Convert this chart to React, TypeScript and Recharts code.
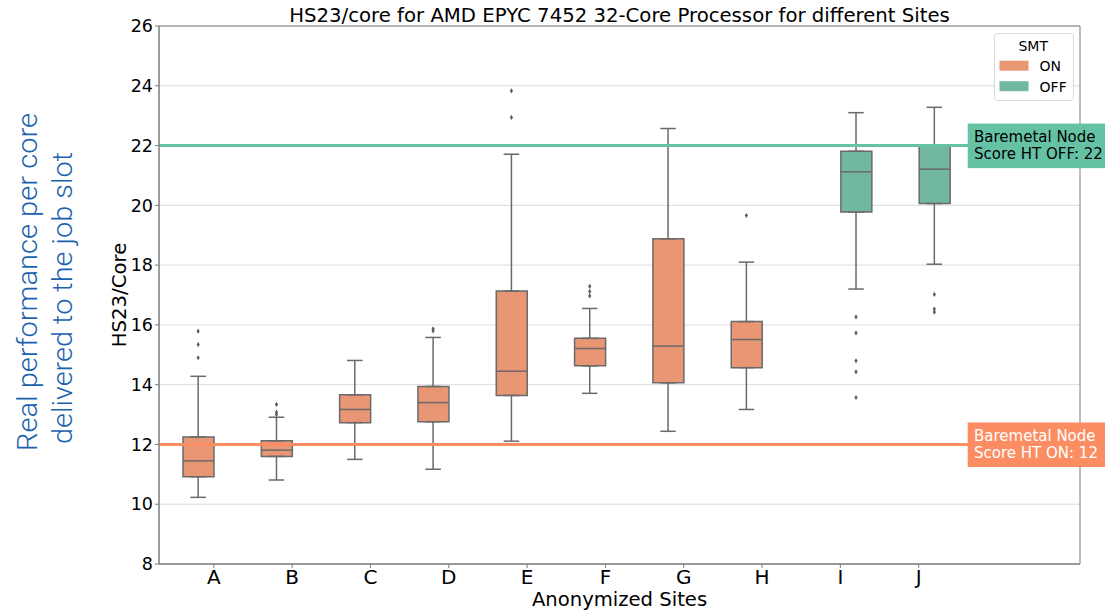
import React from 'react';
import {
  ComposedChart,
  Bar,
  Cell,
  Scatter,
  ErrorBar,
  XAxis,
  YAxis,
  CartesianGrid,
  ReferenceLine,
  ReferenceArea,
} from 'recharts';

// ---------- data ----------
const sites = ['A', 'B', 'C', 'D', 'E', 'F', 'G', 'H', 'I', 'J'];
const smt = ['ON', 'ON', 'ON', 'ON', 'ON', 'ON', 'ON', 'ON', 'OFF', 'OFF'];
const hueLevels = ['ON', 'OFF'];
const whiskerLow = [10.23, 10.81, 11.5, 11.17, 12.11, 13.71, 12.44, 13.17, 17.2, 18.03];
const q1 = [10.92, 11.6, 12.73, 12.76, 13.64, 14.63, 14.06, 14.57, 19.78, 20.06];
const median = [11.45, 11.81, 13.17, 13.4, 14.45, 15.21, 15.29, 15.51, 21.12, 21.21];
const q3 = [12.25, 12.12, 13.66, 13.94, 17.13, 15.55, 18.88, 16.11, 21.81, 21.99];
const whiskerHigh = [14.28, 12.91, 14.81, 15.58, 21.71, 16.55, 22.57, 18.1, 23.1, 23.28];
const outliers: number[][] = [
  [14.9, 15.34, 15.79],
  [13.0, 13.08, 13.34],
  [],
  [15.8, 15.87],
  [22.94, 23.83],
  [16.97, 17.12, 17.29],
  [],
  [19.66],
  [13.57, 14.43, 14.8, 15.73, 16.27],
  [16.43, 16.53, 17.02],
];
const baremetalOn = 12;
const baremetalOff = 22;
const yTicks = [8, 10, 12, 14, 16, 18, 20, 22, 24, 26];
const xTicks = sites.map((_, i) => i);

// ---------- styling ----------
const boxFill: Record<string, string> = { ON: '#e99675', OFF: '#72b7a1' };
const lineColor: Record<string, string> = { ON: '#fc8d62', OFF: '#66c2a5' };
const edge = '#6a6a6a';
const spine = '#7c7c7c';
const FONT = 'DejaVu Sans, Verdana, sans-serif';
const dodge: Record<string, number> = { ON: -0.2, OFF: 0.2 };
const BOX_W = 31;

const boxRows = sites.map((s, i) => ({
  site: s,
  hue: smt[i],
  x: i + dodge[smt[i]],
  box: [q1[i], q3[i]],
}));
const upperWhiskers = sites.map((s, i) => ({
  x: i + dodge[smt[i]],
  y: q3[i],
  err: [0, whiskerHigh[i] - q3[i]],
}));
const lowerWhiskers = sites.map((s, i) => ({
  x: i + dodge[smt[i]],
  y: q1[i],
  err: [q1[i] - whiskerLow[i], 0],
}));
const medians = sites.map((s, i) => ({ x: i + dodge[smt[i]], y: median[i] }));
const fliers = sites.flatMap((s, i) => outliers[i].map((v) => ({ x: i + dodge[smt[i]], y: v })));

const Empty = () => <g />;
const MedianShape = (p: any) => (
  <line x1={p.cx - BOX_W / 2} x2={p.cx + BOX_W / 2} y1={p.cy} y2={p.cy} stroke={edge} strokeWidth={1.5} />
);
const FlierShape = (p: any) => (
  <path
    d={`M${p.cx},${p.cy - 2.6}L${p.cx + 1.6},${p.cy}L${p.cx},${p.cy + 2.6}L${p.cx - 1.6},${p.cy}Z`}
    fill="#5c5c5c"
  />
);

const makeLabel = (bg: string, color: string, l1: string, l2: string) => (props: any) => {
  const vb = props.viewBox || {};
  const x = vb.x + vb.width - 112.3;
  const y = vb.y;
  return (
    <g>
      <rect x={x} y={y - 22} width={160} height={44.6} fill={bg} />
      <text x={x + 6.3} y={y - 3.5} fontSize={15} fill={color} fontFamily={FONT}>
        {l1}
      </text>
      <text x={x + 6.3} y={y + 13.5} fontSize={15} fill={color} fontFamily={FONT}>
        {l2}
      </text>
    </g>
  );
};

export default function App() {
  return (
    <div
      style={{
        position: 'absolute',
        left: 0,
        top: 0,
        width: 1105,
        height: 610,
        background: '#fff',
        fontFamily: FONT,
        overflow: 'hidden',
      }}
    >
      <ComposedChart width={1105} height={610} data={boxRows} margin={{ top: 26, right: 25, bottom: 0, left: 0 }}>
        <CartesianGrid horizontal vertical={false} stroke="#dcdcdc" strokeWidth={1} />
        <XAxis
          type="number"
          dataKey="x"
          domain={[-0.7, 11.06]}
          allowDataOverflow
          ticks={xTicks}
          interval={0}
          tickFormatter={(v: number) => sites[v] ?? ''}
          height={46}
          tickSize={4}
          tickMargin={2}
          tick={{ fontSize: 20, fill: '#000', fontFamily: FONT }}
          tickLine={{ stroke: spine }}
          axisLine={{ stroke: spine }}
        />
        <YAxis
          type="number"
          dataKey="y"
          domain={[8, 26]}
          allowDataOverflow
          ticks={yTicks}
          interval={0}
          width={159}
          tickSize={4}
          tickMargin={2}
          tick={{ fontSize: 17.5, fill: '#000', fontFamily: FONT }}
          tickLine={{ stroke: spine }}
          axisLine={{ stroke: spine }}
        />
        <ReferenceArea
          x1={-0.7}
          x2={11.06}
          y1={8}
          y2={26}
          fill="none"
          stroke={spine}
          strokeWidth={1}
          ifOverflow="visible"
        />
        <Scatter data={upperWhiskers} shape={Empty} isAnimationActive={false}>
          <ErrorBar dataKey="err" direction="y" width={7.75} stroke={edge} strokeWidth={1.5} isAnimationActive={false} />
        </Scatter>
        <Scatter data={lowerWhiskers} shape={Empty} isAnimationActive={false}>
          <ErrorBar dataKey="err" direction="y" width={7.75} stroke={edge} strokeWidth={1.5} isAnimationActive={false} />
        </Scatter>
        <Bar dataKey="box" barSize={BOX_W} stroke={edge} strokeWidth={1.5} isAnimationActive={false}>
          {boxRows.map((r) => (
            <Cell key={r.site} fill={boxFill[r.hue]} />
          ))}
        </Bar>
        <Scatter data={medians} shape={MedianShape} isAnimationActive={false} />
        <Scatter data={fliers} shape={FlierShape} isAnimationActive={false} />
        <ReferenceLine
          y={baremetalOff}
          stroke={lineColor.OFF}
          strokeWidth={3}
          label={makeLabel(lineColor.OFF, '#000', 'Baremetal Node', `Score HT OFF: ${baremetalOff}`)}
        />
        <ReferenceLine
          y={baremetalOn}
          stroke={lineColor.ON}
          strokeWidth={3}
          label={makeLabel(lineColor.ON, '#fff', 'Baremetal Node', `Score HT ON: ${baremetalOn}`)}
        />
      </ComposedChart>
      <svg
        width={1105}
        height={610}
        style={{ position: 'absolute', left: 0, top: 0, pointerEvents: 'none', overflow: 'hidden' }}
      >
        <text x={619.5} y={21.5} textAnchor="middle" fontSize={19.7} fontFamily={FONT} fill="#000">
          HS23/core for AMD EPYC 7452 32-Core Processor for different Sites
        </text>
        <text x={619.5} y={605.5} textAnchor="middle" fontSize={19.6} fontFamily={FONT} fill="#000">
          Anonymized Sites
        </text>
        <text
          transform="translate(126,295) rotate(-90)"
          textAnchor="middle"
          fontSize={19.7}
          fontFamily={FONT}
          fill="#000"
        >
          HS23/Core
        </text>
        <text
          transform="translate(37.3,282) rotate(-90)"
          textAnchor="middle"
          fontSize={28.5}
          fontWeight={300}
          fontFamily="Roboto, 'Liberation Sans', sans-serif"
          fill="#1a62ad"
          textLength={338}
          lengthAdjust="spacingAndGlyphs"
        >
          Real performance per core
        </text>
        <text
          transform="translate(71.7,298) rotate(-90)"
          textAnchor="middle"
          fontSize={28.5}
          fontWeight={300}
          fontFamily="Roboto, 'Liberation Sans', sans-serif"
          fill="#1a62ad"
          textLength={292}
          lengthAdjust="spacingAndGlyphs"
        >
          delivered to the job slot
        </text>
        {/* legend */}
        <rect x={994.5} y={33.5} width={79} height={67} rx={3} fill="#fff" fillOpacity={0.85} stroke="#d9d9d9" />
        <text x={1033.2} y={50.7} textAnchor="middle" fontSize={14} fontFamily={FONT} fill="#000">
          SMT
        </text>
        {hueLevels.map((h, k) => (
          <g key={h}>
            <rect x={999.5} y={60.7 + k * 20.5} width={29} height={10} fill={boxFill[h]} />
            <text x={1039.6} y={71 + k * 21} fontSize={14} fontFamily={FONT} fill="#000">
              {h}
            </text>
          </g>
        ))}
      </svg>
    </div>
  );
}
